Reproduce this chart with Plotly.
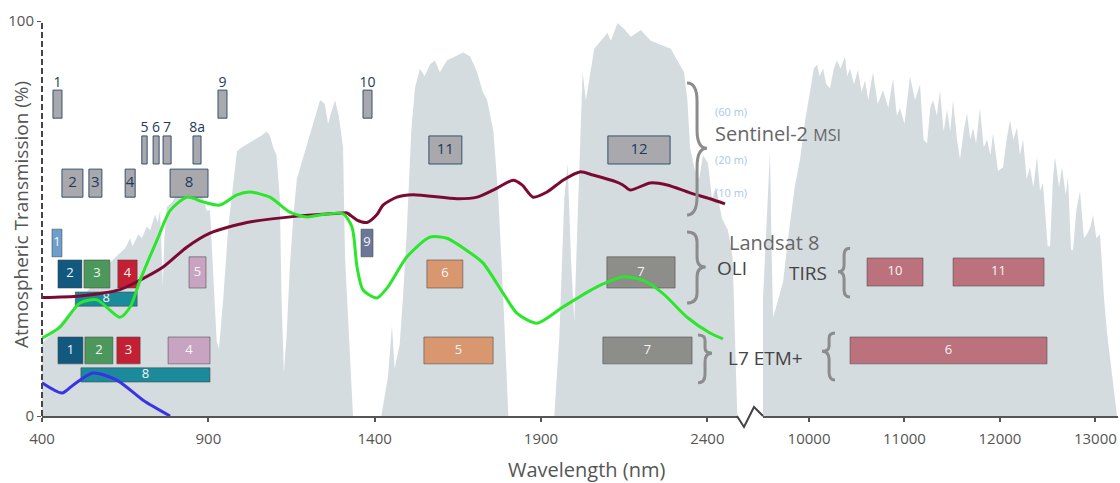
import plotly.graph_objects as go

# ---------------- data ----------------
# Atmospheric transmission (%) - VNIR/SWIR part (nm)
ATM_VNIR_NM = [400, 420, 450, 480, 510, 540, 570, 600, 630, 650, 665, 672, 690, 700, 715, 725, 740, 748,
               755, 760, 763, 768, 775, 790, 805, 820, 835, 850, 870, 885, 895, 905, 915, 925, 932, 945,
               960, 975, 986, 1000, 1020, 1040, 1060, 1075, 1085, 1095, 1105, 1115, 1120, 1127, 1135,
               1145, 1155, 1166, 1180, 1196, 1215, 1236, 1250, 1260, 1270, 1281, 1292, 1305, 1311, 1320,
               1328, 1335, 1420, 1440, 1452, 1460, 1475, 1485, 1496, 1510, 1521, 1536, 1550, 1566, 1581,
               1596, 1617, 1640, 1666, 1687, 1708, 1725, 1738, 1757, 1772, 1787, 1802, 1940, 1955, 1970,
               1980, 1990, 2000, 2010, 2025, 2035, 2050, 2060, 2080, 2100, 2110, 2130, 2150, 2170, 2200,
               2230, 2260, 2290, 2310, 2330, 2340, 2348, 2363, 2375, 2387, 2402, 2414, 2426, 2444, 2462,
               2476, 2484, 2490]
ATM_VNIR_T = [18.5, 20, 23, 26, 29, 32, 35, 38.5, 41, 42.5, 45, 43, 46, 45, 48, 47, 51, 49,
              52, 40, 33, 45, 53, 54, 56, 55, 57, 55, 56, 55, 52, 52, 35, 19, 17, 30,
              48, 60, 67, 68, 69, 70, 71, 72, 71, 68, 66, 55, 30, 11, 20,
              38, 50, 60, 64, 68, 74, 80, 79, 74, 77, 80, 76, 68, 40, 25,
              10, 0, 0, 10, 23, 12, 18, 30, 46, 72, 83, 88, 86, 89, 90,
              87, 90, 91, 92, 91, 87, 82, 80, 72, 55, 29, 0, 0, 20, 55,
              64, 40, 24, 50, 87, 80, 88, 93, 95, 97, 95, 99.5, 98, 96, 97.7,
              95, 94, 93, 90, 87, 80, 68, 62, 60, 66, 64, 55, 58, 50, 47,
              40, 15, 0]

# Atmospheric transmission (%) - thermal part (nm)
ATM_TIR_NM = [9518, 9560, 9591, 9610, 9623, 9660, 9700, 9728, 9780, 9850, 9906, 9960, 10010, 10050, 10084,
              10110, 10147, 10180, 10220, 10260, 10293, 10330, 10377, 10400, 10430, 10470, 10513, 10550,
              10587, 10620, 10670, 10720, 10775, 10830, 10880, 10920, 10953, 11000, 11058, 11110, 11163,
              11200, 11236, 11270, 11299, 11340, 11372, 11410, 11446, 11480, 11509, 11550, 11582, 11620,
              11655, 11690, 11718, 11750, 11791, 11830, 11865, 11900, 11928, 11980, 12032, 12070, 12106,
              12140, 12179, 12210, 12242, 12280, 12315, 12350, 12388, 12420, 12451, 12500, 12525, 12555,
              12577, 12620, 12650, 12690, 12713, 12745, 12766, 12800, 12839, 12880, 12912, 12950, 12975,
              13010, 13049, 13090, 13122, 13185, 13227]
ATM_TIR_T = [30, 50, 67, 40, 25, 28, 32, 34, 45, 58, 65, 75, 82, 88, 89,
             86, 88, 84, 83, 88, 90, 88, 91, 86, 88, 84, 87.6, 82,
             85, 80, 87, 79, 82.5, 78, 85.5, 76, 78, 74, 86, 80, 84,
             70, 69, 78, 80, 76, 82.5, 72, 77.5, 72, 80, 70, 65, 72,
             76.7, 70, 73, 69, 78, 68, 70, 66, 71.6, 62, 63, 70, 75,
             70, 73, 66, 70, 60, 63, 58, 65.6, 57, 59, 43, 43, 60,
             65.6, 58, 63, 56, 60.5, 42, 42, 52, 57, 45, 46, 48, 51,
             45, 46, 30, 21, 8, 0]

# Spectral curves
MAROON_NM = [400, 514, 634, 695, 764, 836, 905, 1016, 1167, 1266, 1305, 1317, 1347, 1377, 1407, 1425, 1467,
             1515, 1648, 1708, 1768, 1816, 1843, 1876, 1918, 1966, 2017, 2056, 2128, 2146, 2168, 2228, 2279,
             2348, 2408, 2453]
MAROON_T = [30, 30.4, 32, 34.4, 37.7, 42.8, 46.3, 49, 50.6, 51.2, 51.4, 51.4, 49.6, 49, 51, 53.4, 55.4,
            56, 55, 55.4, 57.7, 59.7, 58.5, 55.4, 56.7, 59.7, 61.8, 61, 59.2, 58.5, 57.2, 59, 58.5,
            56.5, 55, 53.7]
GREEN_NM = [400, 454, 514, 565, 634, 665, 695, 746, 785, 836, 884, 935, 986, 1025, 1085, 1145, 1197, 1245,
            1305, 1332, 1347, 1365, 1407, 1440, 1497, 1566, 1617, 1687, 1726, 1786, 1828, 1888, 1966, 2068,
            2146, 2206, 2267, 2339, 2408, 2447]
GREEN_T = [19.7, 22.5, 28.6, 29.4, 25, 27.6, 34.4, 44.6, 52, 55.4, 54.2, 53.4, 56, 56.7, 55.4, 51.6, 50.4, 51,
           51.2, 47.8, 37.7, 31.9, 29.9, 32.7, 40.3, 45.3, 45, 41.3, 38.7, 31.1, 26, 23.5, 27.6, 32.7,
           35.2, 34.4, 31, 25, 21, 19.5]
BLUE_NM = [400, 460, 493, 553, 625, 704, 785]
BLUE_T = [8.4, 5.8, 7.8, 10.9, 9.1, 4, 0]

# Sentinel-2 MSI bands
S2_BAND = ["1", "9", "10", "5", "6", "7", "8a", "11", "12", "2", "3", "4", "8"]
S2_LO = [433, 929, 1365, 700, 734, 764, 854, 1563, 2101, 460, 541, 650, 785]
S2_HI = [460, 956, 1392, 716, 752, 788, 878, 1662, 2288, 523, 580, 680, 899]
S2_BOTTOM = [75.4, 75.4, 75.4, 63.8, 63.8, 63.8, 63.8, 63.8, 63.8, 55.4, 55.4, 55.4, 55.4]
S2_TOP = [82.5, 82.5, 82.5, 70.9, 70.9, 70.9, 70.9, 70.9, 70.9, 62.5, 62.5, 62.5, 62.5]

# Landsat 8 OLI bands
L8_BAND = ["1", "9", "2", "3", "4", "5", "6", "7", "8"]
L8_LO = [430, 1359, 448, 526, 628, 842, 1557, 2098, 500]
L8_HI = [460, 1395, 520, 604, 686, 893, 1665, 2303, 686]
L8_BOTTOM = [40.3, 40.3, 32.4, 32.4, 32.4, 32.4, 32.4, 32.4, 27.8]
L8_TOP = [47.3, 47.3, 39.5, 39.5, 39.5, 40.3, 39.5, 40.3, 31.4]

# Landsat 8 TIRS bands
TIRS_BAND = ["10", "11"]
TIRS_LO = [10608, 11509]
TIRS_HI = [11194, 12462]
TIRS_BOTTOM = [32.9, 32.9]
TIRS_TOP = [40.0, 40.0]

# Landsat 7 ETM+ bands
L7_BAND = ["1", "2", "3", "4", "5", "7", "8"]
L7_LO = [448, 529, 625, 779, 1548, 2086, 517]
L7_HI = [523, 613, 695, 905, 1756, 2354, 905]
L7_BOTTOM = [13.2, 13.2, 13.2, 13.2, 13.2, 13.2, 8.6]
L7_TOP = [20.0, 20.0, 20.0, 20.0, 20.0, 20.0, 12.2]
ETM_TIR_BAND = ["6"]
ETM_TIR_LO = [10430]
ETM_TIR_HI = [12493]
ETM_TIR_BOTTOM = [13.2]
ETM_TIR_TOP = [20.0]

X_TICKS_VNIR = [400, 900, 1400, 1900, 2400]
X_TICKS_TIR = [10000, 11000, 12000, 13000]

# ---------------- styles ----------------
FONT = "Open Sans"
GRAY_ATM = "#d5dce0"
S2_FILL = "#a9a9ad"
S2_EDGE = "#34506e"
S2_TEXT = "#1d3a5c"
COLOR_L8 = {"1": "#6c9fcb", "9": "#6b7699", "2": "#11597f", "3": "#4c985c", "4": "#c51f33",
            "5": "#c9a4c2", "6": "#d8976f", "7": "#8d8d89", "8": "#1b8a9b"}
COLOR_L7 = {"1": "#11597f", "2": "#4c985c", "3": "#c51f33", "4": "#c9a4c2", "5": "#d8976f",
            "7": "#8d8d89", "8": "#1b8a9b"}
THERMAL = "#bb727d"
NARROW_S2 = {"1", "9", "10", "5", "6", "7", "8a"}

fig = go.Figure()

# atmosphere
fig.add_trace(go.Scatter(x=ATM_VNIR_NM, y=ATM_VNIR_T, mode="lines", fill="tozeroy",
                         fillcolor=GRAY_ATM, line=dict(width=0, color=GRAY_ATM), hoverinfo="skip"))
fig.add_trace(go.Scatter(x=ATM_TIR_NM, y=ATM_TIR_T, mode="lines", fill="tozeroy",
                         fillcolor=GRAY_ATM, line=dict(width=0, color=GRAY_ATM), hoverinfo="skip",
                         xaxis="x2", yaxis="y"))


def add_boxes(groups, xaxis, edge, edge_w):
    for color, (lo, hi, b, t) in groups.items():
        xs, ys = [], []
        for l, h, bb, tt in zip(lo, hi, b, t):
            xs += [l, h, h, l, l, None]
            ys += [bb, bb, tt, tt, bb, None]
        fig.add_trace(go.Scatter(x=xs, y=ys, mode="lines", fill="toself", fillcolor=color,
                                 line=dict(color=edge, width=edge_w), hoverinfo="skip",
                                 xaxis=xaxis, yaxis="y"))


def group(bands, lo, hi, b, t, colormap):
    g = {}
    for i, band in enumerate(bands):
        c = colormap(band)
        g.setdefault(c, ([], [], [], []))
        g[c][0].append(lo[i]); g[c][1].append(hi[i]); g[c][2].append(b[i]); g[c][3].append(t[i])
    return g


add_boxes(group(S2_BAND, S2_LO, S2_HI, S2_BOTTOM, S2_TOP, lambda b: S2_FILL), "x", S2_EDGE, 1)
g_l = group(L8_BAND, L8_LO, L8_HI, L8_BOTTOM, L8_TOP, lambda b: COLOR_L8[b])
g_7 = group(L7_BAND, L7_LO, L7_HI, L7_BOTTOM, L7_TOP, lambda b: COLOR_L7[b])
for c, v in g_7.items():
    if c in g_l:
        for k in range(4):
            g_l[c][k].extend(v[k])
    else:
        g_l[c] = v
add_boxes(g_l, "x", "rgba(70,70,70,0.55)", 1)
g_t = group(TIRS_BAND + ETM_TIR_BAND, TIRS_LO + ETM_TIR_LO, TIRS_HI + ETM_TIR_HI,
            TIRS_BOTTOM + ETM_TIR_BOTTOM, TIRS_TOP + ETM_TIR_TOP, lambda b: THERMAL)
add_boxes(g_t, "x2", "rgba(70,70,70,0.55)", 1)

# labels
s2_in = [i for i, b in enumerate(S2_BAND) if b not in NARROW_S2]
s2_out = [i for i, b in enumerate(S2_BAND) if b in NARROW_S2]
fig.add_trace(go.Scatter(x=[(S2_LO[i] + S2_HI[i]) / 2 for i in s2_in],
                         y=[(S2_BOTTOM[i] + S2_TOP[i]) / 2 for i in s2_in],
                         text=[S2_BAND[i] for i in s2_in], mode="text",
                         textfont=dict(family=FONT, size=15, color=S2_TEXT), hoverinfo="skip"))
fig.add_trace(go.Scatter(x=[(S2_LO[i] + S2_HI[i]) / 2 for i in s2_out],
                         y=[S2_TOP[i] for i in s2_out],
                         text=[S2_BAND[i] for i in s2_out], mode="text", textposition="top center",
                         textfont=dict(family=FONT, size=14, color=S2_TEXT), hoverinfo="skip"))
lx = [(l + h) / 2 for l, h in zip(L8_LO + L7_LO, L8_HI + L7_HI)]
ly = [(b + t) / 2 for b, t in zip(L8_BOTTOM + L7_BOTTOM, L8_TOP + L7_TOP)]
fig.add_trace(go.Scatter(x=lx, y=ly, text=L8_BAND + L7_BAND, mode="text",
                         textfont=dict(family=FONT, size=13, color="#f6f6f6"), hoverinfo="skip"))
tx = [(l + h) / 2 for l, h in zip(TIRS_LO + ETM_TIR_LO, TIRS_HI + ETM_TIR_HI)]
ty = [(b + t) / 2 for b, t in zip(TIRS_BOTTOM + ETM_TIR_BOTTOM, TIRS_TOP + ETM_TIR_TOP)]
fig.add_trace(go.Scatter(x=tx, y=ty, text=TIRS_BAND + ETM_TIR_BAND, mode="text",
                         textfont=dict(family=FONT, size=13, color="#f6f6f6"), hoverinfo="skip",
                         xaxis="x2", yaxis="y"))

# curves
for xs, ys, col in [(MAROON_NM, MAROON_T, "#7b0a32"), (GREEN_NM, GREEN_T, "#2be62b"),
                    (BLUE_NM, BLUE_T, "#3a32e6")]:
    fig.add_trace(go.Scatter(x=xs, y=ys, mode="lines", hoverinfo="skip",
                             line=dict(color=col, width=3, shape="spline", smoothing=0.7)))


# braces
def brace(xo, xs, xt, yt, ym, yb):
    r1 = (yt - ym) * 0.28
    r2 = (ym - yb) * 0.28
    return (f"M {xo},{yt} Q {xs},{yt} {xs},{yt - r1} L {xs},{ym + r1} "
            f"Q {xs},{ym} {xt},{ym} Q {xs},{ym} {xs},{ym - r2} "
            f"L {xs},{yb + r2} Q {xs},{yb} {xo},{yb}")


BR = dict(color="#8c8c8c", width=3)
shapes = [
    dict(type="path", xref="x", yref="y", path=brace(2339, 2369, 2399, 84.3, 67.8, 50.9), line=BR),
    dict(type="path", xref="x", yref="y", path=brace(2339, 2369, 2395, 46.6, 37.7, 28.6), line=BR),
    dict(type="path", xref="x", yref="y", path=brace(2372, 2393, 2414, 20.5, 15.9, 8.4), line=BR),
    dict(type="path", xref="x2", yref="y", path=brace(10430, 10367, 10304, 42.5, 36.5, 30.1), line=BR),
    dict(type="path", xref="x2", yref="y", path=brace(10272, 10210, 10136, 21.0, 16.4, 9.1), line=BR),
    # dashed y axis
    dict(type="line", xref="paper", yref="paper", x0=0, x1=0, y0=0, y1=1,
         line=dict(color="#444", width=2, dash="6px,3px")),
    # axis break zigzag
    dict(type="path", xref="paper", yref="paper",
         path="M 0.6459,0 L 0.6524,-0.0278 L 0.6617,0.0228 L 0.6701,0",
         line=dict(color="#444", width=2)),
]

TXT = "#555"
ann = [
    dict(x=2417, y=77, xref="x", yref="y", text="(60 m)", showarrow=False, xanchor="left",
         font=dict(family=FONT, size=11, color="#a7c8e8")),
    dict(x=2417, y=65, xref="x", yref="y", text="(20 m)", showarrow=False, xanchor="left",
         font=dict(family=FONT, size=11, color="#a7c8e8")),
    dict(x=2417, y=56.5, xref="x", yref="y", text="(10 m)", showarrow=False, xanchor="left",
         font=dict(family=FONT, size=11, color="#a7c8e8")),
    dict(x=2417, y=71.4, xref="x", yref="y",
         text="Sentinel-2 <span style='font-size:16px'>MSI</span>", showarrow=False,
         xanchor="left", font=dict(family=FONT, size=20, color="#666")),
    dict(x=2459, y=44, xref="x", yref="y", text="Landsat 8", showarrow=False, xanchor="left",
         font=dict(family=FONT, size=20, color="#666")),
    dict(x=2423, y=37.5, xref="x", yref="y", text="OLI", showarrow=False, xanchor="left",
         font=dict(family=FONT, size=19, color="#444")),
    dict(x=2456, y=14.7, xref="x", yref="y", text="L7 ETM+", showarrow=False, xanchor="left",
         font=dict(family=FONT, size=19, color="#444")),
    dict(x=10210, y=36.2, xref="x2", yref="y", text="TIRS", showarrow=False, xanchor="right",
         font=dict(family=FONT, size=19, color="#444")),
    dict(x=0.5065, y=-0.1367, xref="paper", yref="paper", text="Wavelength (nm)", showarrow=False,
         xanchor="center", yanchor="middle", font=dict(family=FONT, size=20, color=TXT)),
    dict(x=-0.0195, y=0.509, xref="paper", yref="paper", text="Atmospheric Transmission (%)",
         showarrow=False, textangle=-90, xanchor="center", yanchor="middle",
         font=dict(family=FONT, size=19, color=TXT)),
]

axis_common = dict(showgrid=False, zeroline=False, showline=True, linecolor="#555", linewidth=2,
                   ticks="outside", ticklen=4, tickcolor="#555", tickwidth=1.5, tickformat="d",
                   tickfont=dict(family=FONT, size=15, color=TXT), ticklabelstandoff=4)

fig.update_layout(
    width=1120, height=483, margin=dict(l=42, r=2, t=21, b=67),
    paper_bgcolor="white", plot_bgcolor="white", showlegend=False,
    font=dict(family=FONT, color=TXT),
    xaxis=dict(domain=[0, 0.6468], range=[400, 2492], tickvals=X_TICKS_VNIR, anchor="y", **axis_common),
    xaxis2=dict(domain=[0.6701, 1], range=[9518, 13237], tickvals=X_TICKS_TIR, anchor="y", **axis_common),
    yaxis=dict(range=[0, 100], tickvals=[0, 100], showgrid=False, zeroline=False, showline=False,
               ticks="outside", ticklen=4, tickcolor="#555", tickfont=dict(family=FONT, size=15, color=TXT),
               anchor="x"),
    shapes=shapes, annotations=ann,
)

fig.write_html("out.html")
